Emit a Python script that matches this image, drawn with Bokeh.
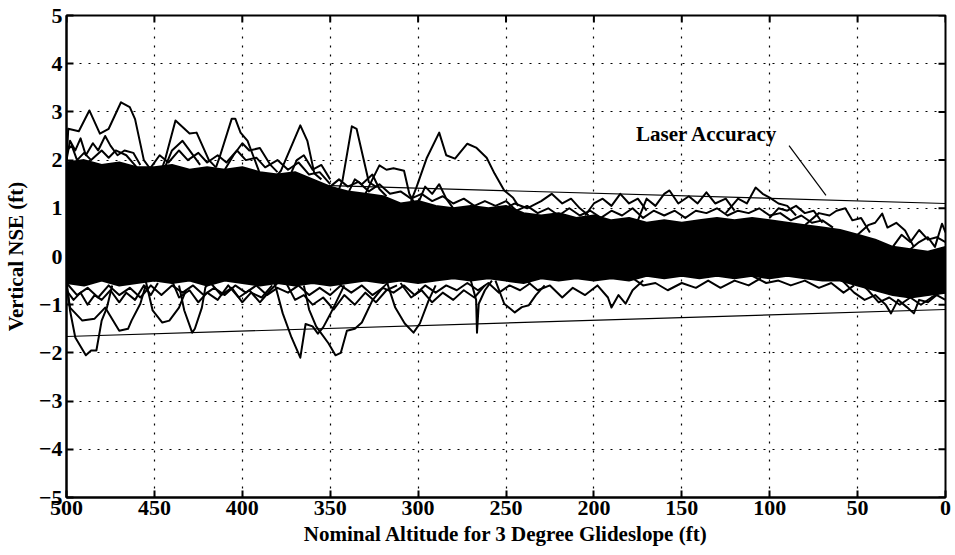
from bokeh.plotting import figure
from bokeh.models import Range1d, FixedTicker, Label
from bokeh.embed import file_html
from bokeh.resources import INLINE

# ---- axis ticks ----
alt_ticks = [500, 450, 400, 350, 300, 250, 200, 150, 100, 50, 0]
nse_ticks = [-5, -4, -3, -2, -1, 0, 1, 2, 3, 4, 5]
nse_tick_labels = ["\u22125", "\u22124", "\u22123", "\u22122", "\u22121", "0", "1", "2", "3", "4", "5"]

# ---- laser accuracy bounds ----
laser_alt = [500, 0]
laser_upper = [1.63, 1.10]
laser_lower = [-1.66, -1.10]

# ---- dense core of the trace bundle (read envelope) ----
core_alt = [500, 490, 480, 470, 460, 450, 440, 430, 420, 410, 400, 390, 380, 370, 360, 350, 340,
            330, 320, 310, 300, 290, 280, 270, 260, 250, 240, 230, 220, 210, 200, 190, 180, 170,
            160, 150, 140, 130, 120, 110, 100, 90, 80, 70, 60, 50, 40, 30, 20, 10, 0]
core_top = [1.95, 2.0, 1.9, 1.95, 1.85, 1.85, 1.9, 1.8, 1.85, 1.8, 1.85, 1.75, 1.7, 1.75, 1.6, 1.45, 1.35,
            1.3, 1.25, 1.1, 1.15, 1.05, 1.0, 1.05, 1.0, 1.05, 0.9, 0.85, 0.9, 0.8, 0.85, 0.75, 0.8, 0.7,
            0.75, 0.7, 0.75, 0.8, 0.75, 0.8, 0.75, 0.7, 0.65, 0.6, 0.55, 0.45, 0.35, 0.2, 0.15, 0.1, 0.2]
core_bottom = [-0.55, -0.6, -0.5, -0.6, -0.55, -0.5, -0.55, -0.5, -0.6, -0.5, -0.55, -0.6, -0.55, -0.6,
               -0.55, -0.6, -0.55, -0.5, -0.55, -0.5, -0.55, -0.5, -0.45, -0.5, -0.45, -0.5, -0.55,
               -0.45, -0.5, -0.45, -0.5, -0.45, -0.5, -0.4, -0.45, -0.4, -0.45, -0.4, -0.45, -0.4,
               -0.45, -0.4, -0.45, -0.5, -0.5, -0.6, -0.7, -0.8, -0.85, -0.8, -0.75]

# ---- individual traces that leave the bundle (altitude ft, NSE ft) ----
trace_u01 = [(500, 1.9), (499, 2.65), (493, 2.6), (487, 3.03), (481, 2.55), (476, 2.65), (469, 3.2),
             (464, 3.1), (461, 2.85), (456, 2.0), (452, 1.8)]
trace_u02 = [(500, 2.0), (498, 2.4), (495, 2.2), (492, 2.45), (489, 2.1), (485, 2.35), (482, 2.2),
             (478, 2.5), (475, 2.3), (471, 2.1), (467, 2.2), (462, 2.15), (458, 1.9)]
trace_u03 = [(500, 2.2), (497, 2.3), (494, 2.0), (490, 2.15), (486, 2.0), (480, 2.2), (476, 2.05),
             (472, 2.2), (466, 2.1), (460, 1.85)]
trace_u04 = [(446, 1.8), (444, 2.0), (438, 2.82), (430, 2.55), (426, 2.57), (419, 2.0), (415, 1.85)]
trace_u05 = [(444, 1.85), (440, 2.2), (434, 2.4), (430, 2.2), (424, 1.9)]
trace_u06 = [(415, 1.85), (413, 2.05), (406, 2.86), (404, 2.86), (401, 2.57), (397, 2.4), (390, 1.72)]
trace_u07 = [(410, 1.8), (405, 2.1), (400, 2.35), (396, 2.2), (390, 2.25), (384, 1.9), (380, 1.75)]
trace_u08 = [(380, 1.7), (378, 1.78), (367, 2.72), (363, 2.4), (359, 1.72), (355, 1.6)]
trace_u09 = [(372, 1.75), (369, 2.0), (365, 2.1), (360, 1.8), (355, 1.9), (350, 1.6)]
trace_u10 = [(345, 1.4), (343, 1.58), (337.7, 2.7), (335, 2.65), (328, 1.54), (324, 1.45)]
trace_u11 = [(330, 1.3), (326, 1.6), (322, 1.89), (318, 1.8), (314, 1.83), (308, 1.78), (305, 1.3), (302, 1.1)]
trace_u12 = [(304, 1.15), (301, 1.43), (295, 2.05), (288, 2.57), (284, 2.1), (279, 2.03), (272, 2.34),
             (267, 2.26), (261, 2.05), (256.5, 1.72), (251, 1.37), (246, 1.22), (243, 1.05)]
trace_u13 = [(340, 1.3), (336, 1.6), (332, 1.5), (326, 1.7), (322, 1.4), (318, 1.25)]
trace_u14 = [(300, 1.1), (296, 1.45), (292, 1.3), (288, 1.5), (284, 1.2), (280, 1.0)]
trace_u15 = [(253, 0.95), (245, 1.1), (238, 1.0), (230, 1.15), (224, 1.3), (218, 1.1), (213, 1.2),
             (208, 1.0), (203, 0.85)]
trace_u16 = [(205, 0.85), (200, 1.1), (195, 1.2), (190, 1.05), (185, 1.3), (180, 1.1), (175, 1.2), (170, 0.95)]
trace_u17 = [(175, 0.75), (170, 1.2), (165, 1.05), (160, 1.3), (157, 1.37), (152, 1.1), (146, 1.25),
             (141, 1.1), (136, 1.33), (131, 1.1), (125, 1.2), (120, 0.95)]
trace_u18 = [(125, 0.9), (118, 1.2), (113, 1.1), (108, 1.43), (104, 1.3), (100, 1.22), (95, 1.1),
             (90, 1.05), (85, 0.85)]
trace_u19 = [(100, 0.8), (95, 1.0), (90, 0.95), (85, 1.05), (80, 0.9), (75, 0.95), (70, 0.7)]
trace_u20 = [(80, 0.65), (72, 0.9), (66, 0.85), (62, 0.95), (57, 1.0), (53, 0.75), (48, 0.8), (43, 0.5)]
trace_u21 = [(50, 0.45), (44, 0.65), (40, 0.7), (36, 0.89), (33, 0.6), (28, 0.7), (23, 0.54), (18, 0.2)]
trace_u22 = [(20, 0.15), (15, 0.3), (10, 0.4), (6, 0.2), (2, 0.68), (0, 0.5)]
trace_u23 = [(30, 0.2), (25, 0.45), (20, 0.3), (15, 0.55), (10, 0.35), (5, 0.4), (0, 0.3)]
trace_u24 = [(452, 1.85), (447, 2.1), (442, 1.95), (436, 2.2), (431, 2.0), (425, 2.15), (420, 1.95),
             (414, 2.1), (409, 1.95), (403, 2.2), (398, 2.0), (392, 2.05), (387, 1.85), (380, 2.0),
             (374, 1.8), (368, 1.95), (362, 1.7), (356, 1.75), (350, 1.5)]
trace_u25 = [(350, 1.45), (345, 1.6), (340, 1.45), (334, 1.55), (328, 1.35), (322, 1.5), (316, 1.3),
             (310, 1.35), (304, 1.2), (298, 1.3), (292, 1.15), (286, 1.25), (280, 1.1), (274, 1.2),
             (268, 1.05), (262, 1.15), (256, 1.05), (250, 1.15), (244, 0.95)]
trace_u26 = [(244, 0.95), (238, 1.05), (232, 0.9), (226, 1.0), (220, 0.85), (214, 1.0), (208, 0.85),
             (202, 0.95), (196, 0.8), (190, 0.95), (184, 0.85), (178, 1.0), (172, 0.8), (166, 0.95),
             (160, 0.85), (154, 0.95), (148, 0.8), (142, 0.95), (136, 0.9), (130, 1.0), (124, 0.85),
             (118, 0.95), (112, 0.9), (106, 1.0), (100, 0.85), (94, 0.9), (88, 0.75), (82, 0.85),
             (76, 0.7), (70, 0.75), (64, 0.6)]

trace_l01 = [(500, -0.5), (498, -1.12), (495, -1.68), (489, -2.05), (486, -1.95), (483, -1.95),
             (480, -1.33), (477, -1.06), (474, -0.6)]
trace_l02 = [(500, -0.6), (498, -1.06), (491, -1.33), (484, -1.29), (478, -1.06), (470, -1.54),
             (465, -1.5), (463, -1.33), (458, -0.98), (455, -0.6)]
trace_l03 = [(500, -0.7), (496, -0.9), (492, -0.75), (488, -1.0), (484, -0.8), (480, -0.9), (475, -0.7),
             (470, -0.95), (466, -0.75), (461, -0.9), (456, -0.6), (452, -0.8), (448, -0.55)]
trace_l04 = [(455, -0.5), (451, -1.12), (445.5, -1.37), (441.5, -1.33), (436, -1.06), (432, -0.7)]
trace_l05 = [(436, -0.6), (433, -1.12), (428.5, -1.58), (427, -1.5), (423, -1.06), (421, -0.64), (418, -0.5)]
trace_l06 = [(440, -0.5), (436, -0.85), (430, -0.7), (425, -0.95), (420, -0.75), (414, -0.9), (408, -0.6),
             (402, -0.85), (396, -0.7), (390, -0.95), (384, -0.7), (380, -0.55)]
trace_l07 = [(418, -0.55), (412, -0.8), (406, -0.65), (400, -0.95), (395, -0.75), (389, -0.85), (383, -0.6)]
trace_l08 = [(382, -0.5), (377, -1.18), (372, -1.68), (367, -2.1), (364, -1.4), (360, -1.45), (357, -1.6),
             (354, -1.47), (350, -1.2), (346, -0.9), (342, -0.6)]
trace_l09 = [(365, -0.6), (362, -1.1), (358, -1.45), (351, -1.8), (347, -2.05), (344, -2.0), (340.5, -1.54),
             (336, -1.5), (332, -1.37), (326, -0.91), (320, -0.64), (316, -0.5)]
trace_l10 = [(375, -0.55), (370, -0.9), (365, -0.8), (360, -1.0), (354, -0.85), (348, -1.1), (342, -0.8),
             (336, -1.0), (330, -0.75), (324, -0.95), (318, -0.7), (312, -0.6)]
trace_l11 = [(318, -0.5), (313, -1.06), (307.6, -1.39), (302.6, -1.58), (299, -1.39), (294, -0.91), (290, -0.6)]
trace_l12 = [(310, -0.55), (304, -0.85), (298, -0.7), (292, -0.95), (286, -0.75), (280, -0.9), (274, -0.7),
             (268, -0.85), (262, -0.6)]
trace_l13 = [(270, -0.5), (267, -0.9), (266.5, -1.58), (265.5, -0.98), (262, -0.7), (258, -0.5)]
trace_l14 = [(256, -0.5), (251, -0.98), (245, -1.16), (241, -1.05), (237, -1.01), (233, -0.8), (228, -0.6)]
trace_l15 = [(240, -0.45), (232, -0.7), (225, -0.6), (218, -0.85), (212, -0.65), (205, -0.8), (198, -0.6),
             (192, -0.85), (190, -1.06), (186, -0.8), (182, -0.98), (178, -0.7), (172, -0.5)]
trace_l16 = [(180, -0.4), (172, -0.6), (165, -0.55), (158, -0.7), (150, -0.55), (142, -0.65), (135, -0.5),
             (128, -0.65), (120, -0.5), (112, -0.6), (105, -0.45)]
trace_l17 = [(110, -0.4), (102, -0.55), (95, -0.5), (88, -0.6), (80, -0.5), (72, -0.65), (65, -0.55),
             (58, -0.75), (52, -0.6)]
trace_l18 = [(60, -0.45), (52, -0.75), (46, -0.9), (40, -0.8), (34, -1.0), (31, -1.18), (27, -0.9),
             (22, -1.05), (18, -1.18), (15, -0.9), (10, -0.95), (5, -0.8), (0, -0.9)]
trace_l19 = [(50, -0.5), (44, -0.7), (38, -0.95), (32, -0.85), (26, -1.0), (20, -0.85), (14, -1.0),
             (8, -0.85), (3, -0.75), (0, -0.6)]
trace_l20 = [(500, -0.55), (494, -0.8), (488, -0.65), (482, -0.85), (476, -0.6), (470, -0.8), (464, -0.65),
             (458, -0.85), (452, -0.6), (446, -0.8), (440, -0.6), (434, -0.75), (428, -0.6), (422, -0.8),
             (416, -0.65), (410, -0.8), (404, -0.6), (398, -0.75), (392, -0.6), (386, -0.8), (380, -0.65),
             (374, -0.75), (368, -0.6), (362, -0.8), (356, -0.65), (350, -0.8), (344, -0.6), (338, -0.75),
             (332, -0.6), (326, -0.8), (320, -0.65), (314, -0.75), (308, -0.6), (302, -0.8), (296, -0.6),
             (290, -0.75), (284, -0.6), (278, -0.7), (272, -0.55), (266, -0.7), (260, -0.55), (254, -0.75),
             (248, -0.6), (242, -0.7), (236, -0.55)]

traces = [trace_u01, trace_u02, trace_u03, trace_u04, trace_u05, trace_u06, trace_u07, trace_u08,
          trace_u09, trace_u10, trace_u11, trace_u12, trace_u13, trace_u14, trace_u15, trace_u16,
          trace_u17, trace_u18, trace_u19, trace_u20, trace_u21, trace_u22, trace_u23, trace_u24,
          trace_u25, trace_u26,
          trace_l01, trace_l02, trace_l03, trace_l04, trace_l05, trace_l06, trace_l07, trace_l08,
          trace_l09, trace_l10, trace_l11, trace_l12, trace_l13, trace_l14, trace_l15, trace_l16,
          trace_l17, trace_l18, trace_l19, trace_l20]

# annotation
note_text = "Laser Accuracy"
note_pos = (176, 2.55)
leader_alt = [89, 68]
leader_nse = [2.30, 1.27]

FONT = "Liberation Serif"
X0, X1 = 500, 0
Y0, Y1 = -5, 5
FRAME_W, FRAME_H = 881, 482
TICK_PX = 7

p = figure(width=955, height=555, output_backend="svg", toolbar_location=None,
           x_range=Range1d(X0, X1), y_range=Range1d(Y0, Y1),
           min_border_left=64, min_border_right=10, min_border_top=15, min_border_bottom=58,
           x_axis_label="Nominal Altitude for 3 Degree Glideslope (ft)",
           y_axis_label="Vertical NSE (ft)")
p.background_fill_color = "white"
p.border_fill_color = "white"
p.outline_line_color = "black"
p.outline_line_width = 2

# grid
p.xgrid.ticker = FixedTicker(ticks=alt_ticks)
p.ygrid.ticker = FixedTicker(ticks=nse_ticks)
for g in (p.xgrid, p.ygrid):
    g.grid_line_color = "black"
    g.grid_line_dash = "2 7"
    g.grid_line_width = 1.2

p.xaxis.ticker = FixedTicker(ticks=alt_ticks)
p.yaxis.ticker = FixedTicker(ticks=nse_ticks)
p.yaxis.major_label_overrides = {t: s for t, s in zip(nse_ticks, nse_tick_labels)}

for ax in (p.xaxis[0], p.yaxis[0]):
    ax.major_tick_in = TICK_PX
    ax.major_tick_out = 0
    ax.minor_tick_in = 0
    ax.minor_tick_out = 0
    ax.axis_line_color = "black"
    ax.axis_line_width = 2
    ax.major_tick_line_color = "black"
    ax.major_tick_line_width = 2
    ax.major_label_text_font = FONT
    ax.major_label_text_font_style = "bold"
    ax.major_label_text_font_size = "22px"
    ax.major_label_text_color = "black"
    ax.axis_label_text_font = FONT
    ax.axis_label_text_font_style = "bold"
    ax.axis_label_text_font_size = "21px"
    ax.axis_label_text_color = "black"

p.xaxis[0].major_label_standoff = 3
p.xaxis[0].axis_label_standoff = 4
p.yaxis[0].major_label_standoff = 4
p.yaxis[0].axis_label_standoff = 8

# inward ticks on the top and right edges of the box
dx = TICK_PX * abs(X1 - X0) / FRAME_W
dy = TICK_PX * (Y1 - Y0) / FRAME_H
p.segment(x0=alt_ticks, y0=[Y1] * len(alt_ticks), x1=alt_ticks, y1=[Y1 - dy] * len(alt_ticks),
          line_color="black", line_width=2)
p.segment(x0=[X1] * len(nse_ticks), y0=nse_ticks, x1=[X1 + dx] * len(nse_ticks), y1=nse_ticks,
          line_color="black", line_width=2)

# core bundle
p.patch(core_alt + core_alt[::-1], core_top + core_bottom[::-1],
        fill_color="black", line_color="black", line_width=2)

# traces
xs = [[a for a, _ in t] for t in traces]
ys = [[v for _, v in t] for t in traces]
p.multi_line(xs, ys, line_color="black", line_width=2, line_join="round")

# laser accuracy bounds
p.line(laser_alt, laser_upper, line_color="black", line_width=1.2)
p.line(laser_alt, laser_lower, line_color="black", line_width=1.2)

# annotation
p.line(leader_alt, leader_nse, line_color="black", line_width=1.2)
p.add_layout(Label(x=note_pos[0], y=note_pos[1], text=note_text, text_align="left",
                   text_baseline="middle", text_font=FONT, text_font_style="bold",
                   text_font_size="21px", text_color="black"))

open("out.html", "w").write(file_html(p, INLINE))
